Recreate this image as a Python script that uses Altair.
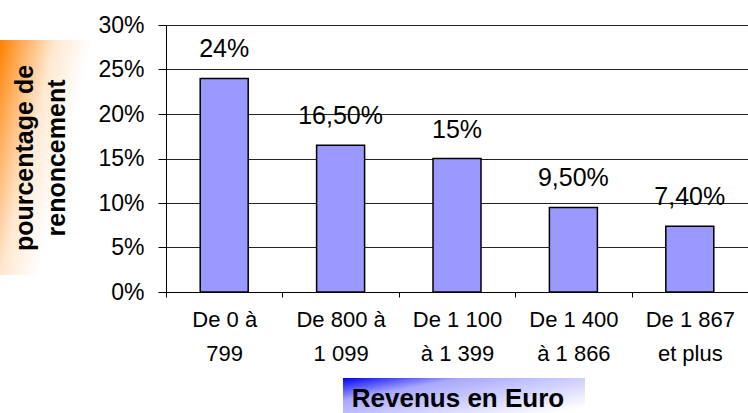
import altair as alt
import pandas as pd

categories = ["De 0 à|799", "De 800 à|1 099", "De 1 100|à 1 399", "De 1 400|à 1 866", "De 1 867|et plus"]
values = [0.24, 0.165, 0.15, 0.095, 0.074]
value_labels = ["24%", "16,50%", "15%", "9,50%", "7,40%"]
y_ticks = [0, 0.05, 0.10, 0.15, 0.20, 0.25, 0.30]
y_title_lines = ["pourcentage de", "renoncement"]
x_title = "Revenus en Euro"

df = pd.DataFrame({"cat": categories, "value": values, "label": value_labels})
one = pd.DataFrame({"k": [0]})

FONT = "Liberation Sans"
W, H = 582, 267

x_enc = alt.X(
    "cat:N", sort=categories,
    scale=alt.Scale(paddingInner=0, paddingOuter=0),
    axis=alt.Axis(
        title=None, labelAngle=0, labelExpr="split(datum.label, '|')",
        labelFontSize=22, labelFont=FONT, labelColor="black", labelLineHeight=34,
        labelPadding=12, tickBand="extent", tickSize=5, tickColor="black",
        domainColor="black", grid=False,
    ),
)
y_enc = alt.Y(
    "value:Q",
    scale=alt.Scale(domain=[0, 0.3], nice=False),
    axis=alt.Axis(
        title=None, values=y_ticks, format=".0%", grid=True, gridColor="#222",
        gridWidth=1, tickSize=8, tickColor="black", domainColor="black",
        labelFontSize=23, labelFont=FONT, labelColor="black", labelPadding=14,
    ),
)

bars = alt.Chart(df).mark_bar(width=48, color="#9999FF", stroke="black", strokeWidth=1.5).encode(
    x=x_enc, y=y_enc
)
labels = alt.Chart(df).mark_text(
    dy=-21, baseline="alphabetic", fontSize=25, font=FONT, color="black"
).encode(x=alt.X("cat:N", sort=categories), y="value:Q", text="label:N")

orange_grad = alt.LinearGradient(
    gradient="linear", x1=0, y1=0, x2=1, y2=0.6,
    stops=[alt.GradientStop(color="#FF8000", offset=0),
           alt.GradientStop(color="#FFB060", offset=0.2),
           alt.GradientStop(color="#FFE8D0", offset=0.45),
           alt.GradientStop(color="#FFFFFF", offset=0.75)],
)
blue_grad = alt.LinearGradient(
    gradient="linear", x1=0, y1=0, x2=1, y2=0.8,
    stops=[alt.GradientStop(color="#0000F0", offset=0),
           alt.GradientStop(color="#A8A8FF", offset=0.3),
           alt.GradientStop(color="#FFFFFF", offset=1)],
)

orange_box = alt.Chart(one).mark_rect(color=orange_grad).encode(
    x=alt.value(-166), x2=alt.value(-76), y=alt.value(15), y2=alt.value(250)
)
blue_box = alt.Chart(one).mark_rect(color=blue_grad).encode(
    x=alt.value(177), x2=alt.value(419), y=alt.value(353), y2=alt.value(390)
)
y_title = alt.Chart(one).mark_text(
    angle=270, lineHeight=32, fontWeight="bold", fontSize=25, font=FONT,
    baseline="middle", align="center", color="black",
).encode(x=alt.value(-141), y=alt.value(133), text=alt.value(y_title_lines))
x_title_mark = alt.Chart(one).mark_text(
    fontWeight="bold", fontSize=26, font=FONT, baseline="alphabetic",
    align="center", color="black",
).encode(x=alt.value(292), y=alt.value(382), text=alt.value(x_title))

chart = alt.layer(orange_box, blue_box, bars, labels, y_title, x_title_mark).properties(
    width=W, height=H,
    autosize=alt.AutoSizeParams(type="none"),
    padding={"left": 166, "top": 25, "right": 0, "bottom": 121},
    background="white",
).configure_view(stroke=None)

chart.save("out.html", embed_options={"renderer": "svg", "actions": False})
